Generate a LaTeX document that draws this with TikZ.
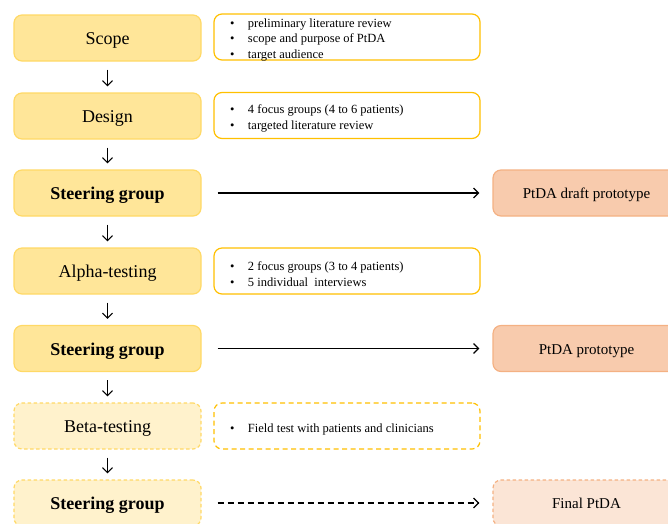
\documentclass[tikz,border=0pt]{standalone}
\usepackage{fontspec}
\setmainfont{Liberation Serif}
\usetikzlibrary{arrows.meta}
\definecolor{stepfill}{HTML}{FFE699}
\definecolor{stepdraw}{HTML}{FFD966}
\definecolor{descdraw}{HTML}{FFC000}
\definecolor{outfill}{HTML}{F8CBAD}
\definecolor{outdraw}{HTML}{F4B183}
\definecolor{palefill}{HTML}{FFF2CC}
\definecolor{paleout}{HTML}{FBE5D6}
\tikzset{
  box/.style={rounded corners=8pt, line width=1.2pt, minimum height=46pt, inner sep=0pt, anchor=center},
  stepbox/.style={box, fill=stepfill, draw=stepdraw, minimum width=187pt, text height=13pt, text depth=0pt, font=\fontsize{18}{20}\selectfont},
  palebox/.style={stepbox, fill=palefill, dash pattern=on 3.5pt off 2.5pt},
  descbox/.style={box, fill=white, draw=descdraw, minimum width=266pt, font=\fontsize{12.5}{15.5}\selectfont},
  palediesc/.style={descbox, dash pattern=on 5pt off 3.5pt},
  outbox/.style={box, fill=outfill, draw=outdraw, minimum width=187pt, text height=11.5pt, text depth=0pt, font=\fontsize{15}{17}\selectfont},
  paleoutbox/.style={outbox, fill=paleout, dash pattern=on 3.5pt off 2.5pt},
  vflow/.style={-{Straight Barb[length=5pt,width=10pt]}, line width=1.1pt, shorten <=8pt, shorten >=6pt},
  hflow/.style={-{Straight Barb[length=5pt,width=10pt]}, line width=1.2pt, shorten <=16pt, shorten >=13pt},
}
\newcommand{\bitem}[1]{\makebox[18pt][l]{\textbullet}#1}
\newcommand{\desclist}[1]{\raisebox{-3pt}[\height][\depth]{\parbox{234pt}{\raggedright #1}}}
\begin{document}
\begin{tikzpicture}[x=1pt,y=-1pt]
\useasboundingbox (0,0) rectangle (668,523);
\clip (0,0) rectangle (668,523);
% left column
\node[stepbox] (scope) at (107.5,38) {Scope};
\node[stepbox] (design) at (107.5,116) {Design};
\node[stepbox] (steer1) at (107.5,193) {\bfseries Steering group};
\node[stepbox] (alpha) at (107.5,271) {Alpha-testing};
\node[stepbox] (steer2) at (107.5,348.5) {\bfseries Steering group};
\node[palebox] (beta) at (107.5,426) {Beta-testing};
\node[palebox] (steer3) at (107.5,503) {\bfseries Steering group};
% descriptions
\node[descbox] (dscope) at (347,37) {\desclist{\bitem{preliminary literature review}\\\bitem{scope and purpose of PtDA}\\\bitem{target audience}}};
\node[descbox] (ddesign) at (347,115.5) {\desclist{\bitem{4 focus groups (4 to 6 patients)}\\\bitem{targeted literature review}}};
\node[descbox] (dalpha) at (347,271) {\desclist{\bitem{2 focus groups (3 to 4 patients)}\\\bitem{5 individual\ \ interviews}}};
\node[palediesc] (dbeta) at (347,426) {\desclist{\bitem{Field test with patients and clinicians}}};
% outputs
\node[outbox] (out1) at (586.5,193) {PtDA draft prototype};
\node[outbox] (out2) at (586.5,348.5) {PtDA prototype};
\node[paleoutbox] (out3) at (586.5,503) {Final PtDA};
% vertical flow
\draw[vflow] (scope) -- (design);
\draw[vflow] (design) -- (steer1);
\draw[vflow] (steer1) -- (alpha);
\draw[vflow] (alpha) -- (steer2);
\draw[vflow] (steer2) -- (beta);
\draw[vflow] (beta) -- (steer3);
% horizontal flow
\draw[hflow] (steer1) -- (out1);
\draw[hflow] (steer2) -- (out2);
\draw[hflow, dash pattern=on 6pt off 4pt] (steer3) -- (out3);
\end{tikzpicture}
\end{document}
